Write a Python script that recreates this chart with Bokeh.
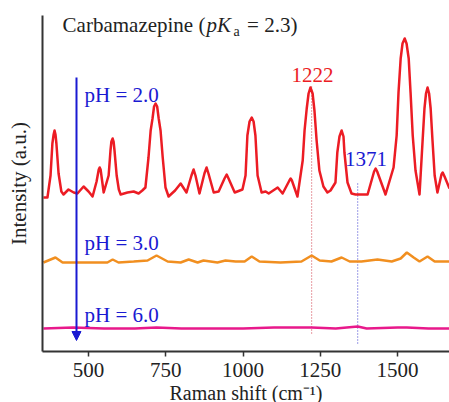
from bokeh.plotting import figure
from bokeh.models import Range1d, Arrow, NormalHead, FixedTicker
from bokeh.core.properties import value
from bokeh.embed import file_html
from bokeh.resources import INLINE

# ---- data ----
red_x = [354, 367, 377, 383, 387, 390, 393, 396, 403, 412, 419, 435, 452, 464, 484, 500,
         513, 526, 533, 536, 539, 549, 565, 571, 574, 578, 581, 584, 591, 598, 604, 626,
         646, 662, 674, 684, 694, 701, 707, 712, 717, 722, 727, 733, 740, 749, 759, 780,
         798, 817, 833, 840, 846, 859, 875, 882, 888, 905, 921, 940, 947, 953, 973, 998,
         1008, 1014, 1021, 1028, 1034, 1040, 1047, 1060, 1073, 1083, 1112, 1128, 1150,
         1154, 1158, 1176, 1193, 1199, 1206, 1212, 1218, 1225, 1231, 1238, 1247, 1260,
         1273, 1283, 1299, 1305, 1312, 1319, 1325, 1328, 1338, 1351, 1364, 1403, 1424,
         1429, 1434, 1461, 1487, 1497, 1503, 1510, 1516, 1523, 1529, 1536, 1542, 1549,
         1558, 1571, 1581, 1587, 1592, 1597, 1602, 1607, 1613, 1620, 1629, 1642, 1646,
         1652, 1668]
red_y = [154, 154, 176, 208, 217, 221, 217, 208, 178, 160, 157, 162, 159, 158, 165, 160,
         155, 170, 182, 184, 182, 159, 176, 201, 210, 213, 210, 201, 176, 162, 157, 159,
         160, 158, 161, 164, 194, 221, 233, 245, 248, 245, 233, 221, 194, 164, 155, 161,
         168, 159, 176, 182, 176, 158, 178, 184, 178, 159, 160, 173, 177, 173, 159, 162,
         176, 216, 230, 234, 230, 216, 176, 159, 160, 158, 164, 158, 171,
         173, 171, 155, 191, 221, 243, 258, 264, 258, 241, 211, 181, 165,
         159, 161, 169, 199, 215, 221, 215, 199, 169, 158, 157, 157, 180,
         183, 180, 157, 184, 216, 259, 293, 308, 313, 308, 293, 259, 216,
         181, 157, 211, 243, 258, 264, 258, 243, 211, 176, 159, 177, 179,
         175, 163]

orange_x = [354, 393, 416, 474, 561, 578, 597, 646, 691, 720, 756, 798, 824, 853, 872, 917,
            943, 976, 1005, 1028, 1053, 1121, 1189, 1222, 1248, 1286, 1319, 1345, 1383,
            1435, 1481, 1510, 1530, 1552, 1571, 1597, 1620, 1668]
orange_y = [89, 94, 89, 89, 89, 92, 89, 90, 91, 96, 90, 89, 92, 89, 91, 89,
            91, 90, 90, 95, 90, 89, 90, 96, 91, 90, 94, 90, 90,
            92, 90, 93, 99, 94, 90, 95, 90, 90]

magenta_x = [354, 450, 550, 650, 720, 800, 900, 1000, 1100, 1222, 1300, 1371, 1400,
             1500, 1530, 1600, 1668]
magenta_y = [23, 24, 23, 23, 24, 23, 23, 23, 24, 24, 23, 25, 23, 24, 24, 23, 23]

x_ticks = [500, 750, 1000, 1250, 1500]
peak_labels = ["1222", "1371"]
peak_pos = [1222, 1371]
ph_labels = ["pH = 2.0", "pH = 3.0", "pH = 6.0"]
x_title = "Raman shift (cm\u207b\u00b9)"
y_title = "Intensity (a.u.)"

RED = "#ec1c24"
ORANGE = "#f18f20"
MAGENTA = "#e8198b"
BLUE = "#1a1ad2"
INK = "#222222"
FONT = "Liberation Serif"

p = figure(width=449, height=408, output_backend="svg", toolbar_location=None,
           x_range=Range1d(351, 1668), y_range=Range1d(0, 336),
           min_border_left=42, min_border_right=0, min_border_top=15, min_border_bottom=57)
p.outline_line_color = None
p.grid.visible = False

# axes
xa = p.xaxis[0]
xa.ticker = FixedTicker(ticks=x_ticks)
xa.minor_tick_line_color = None
xa.major_tick_in = 0
xa.major_tick_out = 5
xa.major_tick_line_width = 1.5
xa.major_tick_line_color = "#333333"
xa.axis_line_color = "#333333"
xa.axis_line_width = 2
xa.major_label_text_font = FONT
xa.major_label_text_font_size = "21px"
xa.major_label_text_color = INK
xa.major_label_standoff = 6
xa.axis_label = x_title
xa.axis_label_text_font = FONT
xa.axis_label_text_font_size = "20px"
xa.axis_label_text_font_style = "normal"
xa.axis_label_text_color = INK
xa.axis_label_standoff = 2

ya = p.yaxis[0]
ya.ticker = FixedTicker(ticks=[])
ya.minor_tick_line_color = None
ya.major_tick_line_color = None
ya.major_tick_in = 0
ya.major_tick_out = 0
ya.major_label_text_font_size = "0px"
ya.axis_line_color = "#333333"
ya.axis_line_width = 2
ya.axis_label = y_title
ya.axis_label_text_font = FONT
ya.axis_label_text_font_size = "21px"
ya.axis_label_text_font_style = "normal"
ya.axis_label_text_color = INK
ya.axis_label_standoff = 12

# dotted guide lines
p.segment(x0=[peak_pos[0]], y0=[18], x1=[peak_pos[0]], y1=[266],
          line_color="#d03a48", line_width=1, line_dash="1 2")
p.segment(x0=[peak_pos[1]], y0=[8], x1=[peak_pos[1]], y1=[168],
          line_color="#3a3ad0", line_width=1, line_dash="1 2")

# spectra
p.line(magenta_x, magenta_y, line_color=MAGENTA, line_width=2.5)
p.line(orange_x, orange_y, line_color=ORANGE, line_width=2.5)
p.line(red_x, red_y, line_color=RED, line_width=2.5, line_join="round")

# arrow
p.add_layout(Arrow(end=NormalHead(size=9, fill_color=BLUE, line_color=BLUE, line_width=1),
                   x_start=461, y_start=274, x_end=461, y_end=11,
                   line_color=BLUE, line_width=2))

# texts
def txt(x, y, s, color, size="21px", style="normal", align="left"):
    p.text(x=[x], y=[y], text=[s], text_color=color, text_font=value(FONT),
           text_font_size=value(size), text_font_style=style,
           text_align=align, text_baseline="middle")

txt(416, 327, "Carbamazepine (", INK)
txt(882, 327, "pK", INK, style="italic")
txt(969, 320, "a", INK, size="14px")
txt(1013, 327, "= 2.3)", INK)

txt(487, 257, ph_labels[0], BLUE)
txt(487, 109, ph_labels[1], BLUE)
txt(487, 37, ph_labels[2], BLUE)

txt(1225, 277, peak_labels[0], RED, align="center")
txt(1398, 193, peak_labels[1], BLUE, align="center")

open("out.html", "w").write(file_html(p, INLINE))
